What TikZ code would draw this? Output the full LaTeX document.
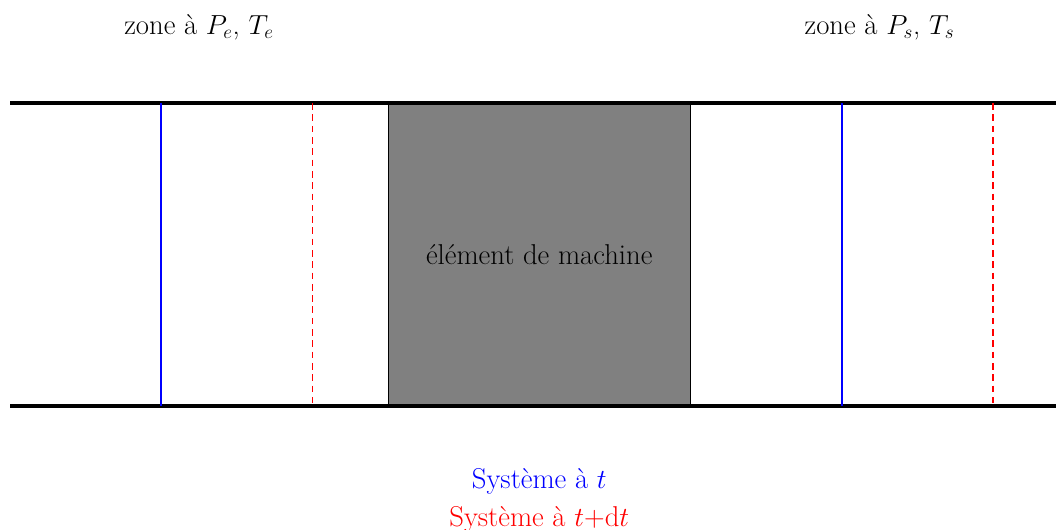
\documentclass[tikz,border=0pt]{standalone}
\begin{document}
\begin{tikzpicture}
\useasboundingbox (-0.265,-3.27) rectangle (27.67,10.73);
\tikzset{
  wall/.style={line width=3pt},
  syst/.style={blue, line width=1.3pt},
  systdt/.style={red, line width=1.3pt, dash pattern=on 5pt off 3.5pt},
  lbl/.style={font=\fontsize{21.6}{26}\selectfont}
}
\coordinate (tl) at (0,8); \coordinate (tr) at (28,8);
\coordinate (bl) at (0,0); \coordinate (br) at (28,0);
\node[draw=black, fill=gray, minimum width=8cm, minimum height=8cm, inner sep=0pt, anchor=south west] (machine) at (10,0) {};
\node[lbl] (mtext) at (14,4) {élément de machine};
\draw[wall] (tl) -- (tr);
\draw[wall] (bl) -- (br);
\coordinate (b1t) at (4,8); \coordinate (b1b) at (4,0);
\coordinate (r1t) at (8,8); \coordinate (r1b) at (8,0);
\coordinate (b2t) at (22,8); \coordinate (b2b) at (22,0);
\coordinate (r2t) at (26,8); \coordinate (r2b) at (26,0);
\draw[syst] (b1t) -- (b1b);
\draw[syst] (b2t) -- (b2b);
\draw[systdt] (r1t) -- (r1b);
\draw[systdt] (r2t) -- (r2b);
\node[lbl] (ze) at (5,10) {zone à $P_e$, $T_e$};
\node[lbl] (zs) at (23,10) {zone à $P_s$, $T_s$};
\node[lbl, blue] (st) at (14,-2) {Système à $t$};
\node[lbl, red] (stdt) at (14,-3) {Système à $t$+d$t$};
\end{tikzpicture}
\end{document}
